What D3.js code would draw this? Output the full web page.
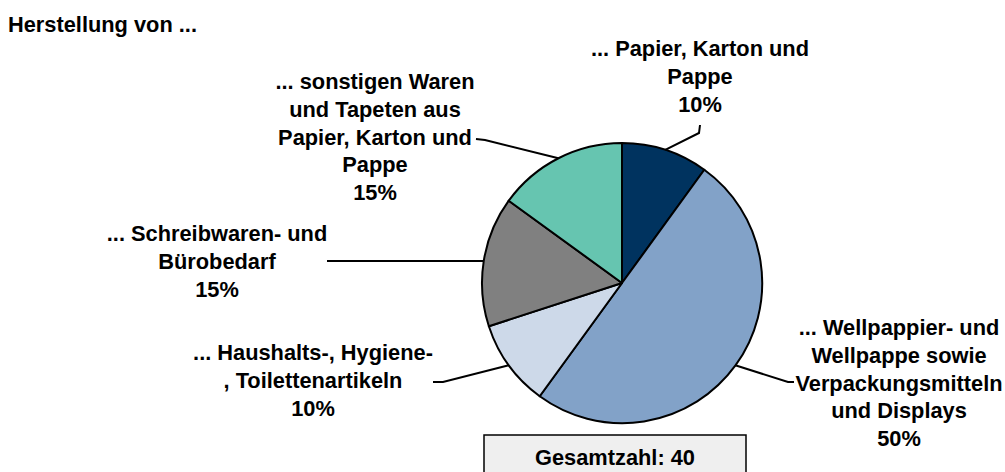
<!DOCTYPE html>
<html>
<head>
<meta charset="utf-8">
<script src="https://cdn.jsdelivr.net/npm/d3@7"></script>
<style>
  body { margin: 0; background: #fff; }
  text { font-family: "Liberation Sans", Arial, sans-serif; font-weight: bold; fill: #000; }
</style>
</head>
<body>
<div id="chart"></div>
<script>
// donnees
var categories = [
    ["... Papier, Karton und", "Pappe"],
    ["... Wellpappier- und", "Wellpappe sowie", "Verpackungsmitteln", "und Displays"],
    ["... Haushalts-, Hygiene-", ", Toilettenartikeln"],
    ["... Schreibwaren- und", "Bürobedarf"],
    ["... sonstigen Waren", "und Tapeten aus", "Papier, Karton und", "Pappe"]
];
var anzahl = [4, 20, 4, 6, 6];
var farben = ["#00335f", "#82a2c8", "#cdd9e9", "#808080", "#66c5b0"];
var titel = "Herstellung von ...";
var gesamt = d3.sum(anzahl);

// position des etiquettes (x centre, y premiere ligne) et coude de la ligne
var labelPos = [
    {x: 700, y: 56, knee: [[699, 133], [700, 125]]},
    {x: 899, y: 335, knee: [[788, 382], [794, 382]]},
    {x: 313, y: 360, knee: [[443, 382], [433, 382]]},
    {x: 217, y: 241, knee: [[327, 261]]},
    {x: 375, y: 89, knee: [[485, 140], [476, 139]]}
];

var width = 1005, height = 472,
    cx = 622, cy = 283, radius = 140,
    lineH = 27.8, fontSize = 21.8;

var svg = d3.select("#chart").append("svg")
    .attr("width", width)
    .attr("height", height);

svg.append("text")
    .attr("x", 8)
    .attr("y", 32)
    .attr("font-size", fontSize)
    .text(titel);

var pie = d3.pie().sort(null).value(function(d) { return d; });
var arcs = pie(anzahl);
var arc = d3.arc().innerRadius(0).outerRadius(radius);
var edge = d3.arc().innerRadius(radius).outerRadius(radius);

var g = svg.append("g").attr("transform", "translate(" + cx + "," + cy + ")");

g.selectAll("path.slice")
    .data(arcs)
    .enter()
    .append("path")
    .attr("class", "slice")
    .attr("d", arc)
    .attr("fill", function(d, i) { return farben[i]; })
    .attr("stroke", "#000")
    .attr("stroke-width", 2)
    .attr("stroke-linejoin", "round");

// lignes de rappel
var line = d3.line();
arcs.forEach(function(d, i) {
    var p = edge.centroid(d);
    var pts = [[p[0] + cx, p[1] + cy]].concat(labelPos[i].knee);
    svg.append("path")
        .attr("d", line(pts))
        .attr("fill", "none")
        .attr("stroke", "#000")
        .attr("stroke-width", 2);
});

// etiquettes
arcs.forEach(function(d, i) {
    var lines = categories[i].concat([Math.round(d.value / gesamt * 100) + "%"]);
    var t = svg.append("text")
        .attr("text-anchor", "middle")
        .attr("font-size", fontSize);
    lines.forEach(function(l, j) {
        t.append("tspan")
            .attr("x", labelPos[i].x)
            .attr("y", labelPos[i].y + j * lineH)
            .text(l);
    });
});

// boite total
svg.append("rect")
    .attr("x", 484)
    .attr("y", 435)
    .attr("width", 262)
    .attr("height", 60)
    .attr("fill", "#efefef")
    .attr("stroke", "#000")
    .attr("stroke-width", 1.5);

svg.append("text")
    .attr("x", 615)
    .attr("y", 465)
    .attr("text-anchor", "middle")
    .attr("font-size", fontSize)
    .text("Gesamtzahl: " + gesamt);
</script>
</body>
</html>
